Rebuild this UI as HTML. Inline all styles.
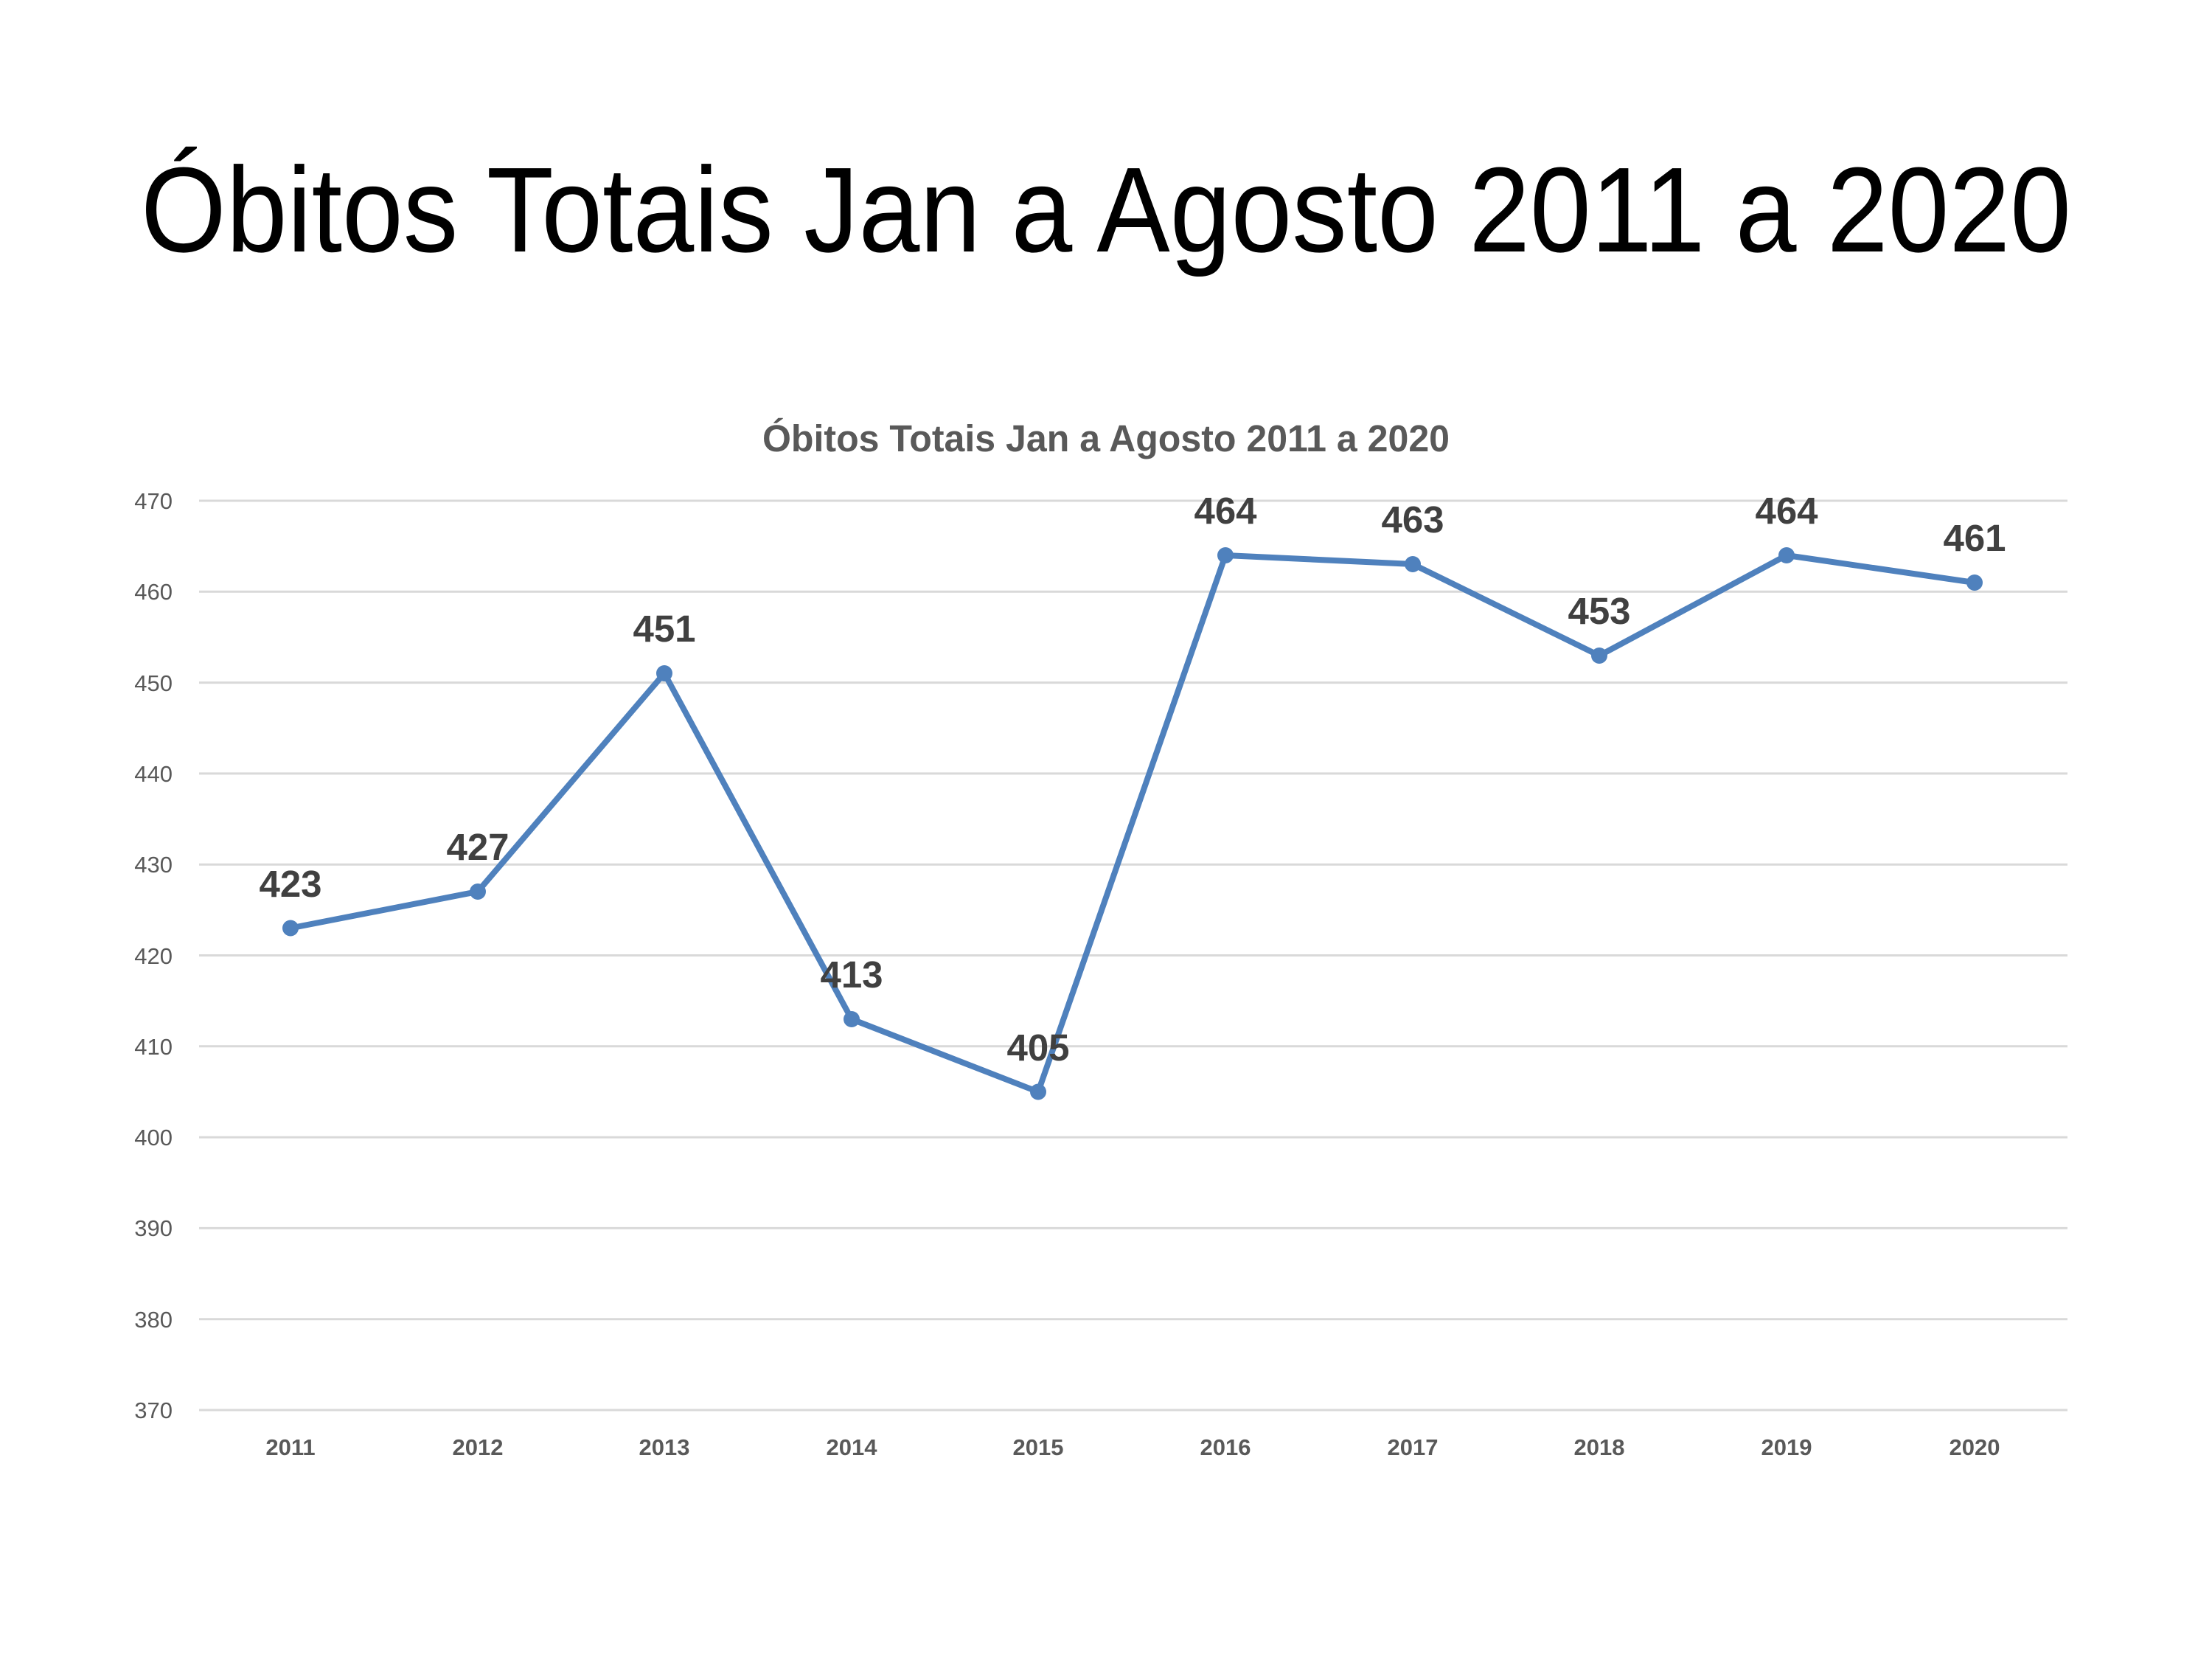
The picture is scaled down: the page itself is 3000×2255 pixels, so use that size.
<!DOCTYPE html>
<html><head><meta charset="utf-8"><style>html,body{margin:0;padding:0;background:#fff}</style></head>
<body>
<svg width="3000" height="2250" xmlns="http://www.w3.org/2000/svg" font-family="'Liberation Sans', sans-serif">
<rect width="3000" height="2250" fill="#fff"/>
<text x="1500" y="341" font-size="164" text-anchor="middle" fill="#000" textLength="2618" lengthAdjust="spacingAndGlyphs">Óbitos Totais Jan a Agosto 2011 a 2020</text>
<text x="1500" y="612" font-size="51" font-weight="bold" text-anchor="middle" fill="#595959" textLength="932" lengthAdjust="spacingAndGlyphs">Óbitos Totais Jan a Agosto 2011 a 2020</text>
<g stroke="#d9d9d9" stroke-width="3">
<line x1="270" x2="2804" y1="679" y2="679"/><line x1="270" x2="2804" y1="802.3" y2="802.3"/><line x1="270" x2="2804" y1="925.6" y2="925.6"/><line x1="270" x2="2804" y1="1048.9" y2="1048.9"/><line x1="270" x2="2804" y1="1172.2" y2="1172.2"/><line x1="270" x2="2804" y1="1295.5" y2="1295.5"/><line x1="270" x2="2804" y1="1418.8" y2="1418.8"/><line x1="270" x2="2804" y1="1542.1" y2="1542.1"/><line x1="270" x2="2804" y1="1665.4" y2="1665.4"/><line x1="270" x2="2804" y1="1788.7" y2="1788.7"/><line x1="270" x2="2804" y1="1912" y2="1912"/>
</g>
<g font-size="31" fill="#595959" text-anchor="end">
<text x="234" y="690">470</text><text x="234" y="813">460</text><text x="234" y="937">450</text><text x="234" y="1060">440</text><text x="234" y="1183">430</text><text x="234" y="1307">420</text><text x="234" y="1430">410</text><text x="234" y="1553">400</text><text x="234" y="1676">390</text><text x="234" y="1800">380</text><text x="234" y="1923">370</text>
</g>
<g font-size="31" font-weight="bold" fill="#595959" text-anchor="middle">
<text x="394" y="1973">2011</text><text x="648" y="1973">2012</text><text x="901" y="1973">2013</text><text x="1155" y="1973">2014</text><text x="1408" y="1973">2015</text><text x="1662" y="1973">2016</text><text x="1916" y="1973">2017</text><text x="2169" y="1973">2018</text><text x="2423" y="1973">2019</text><text x="2678" y="1973">2020</text>
</g>
<polyline fill="none" stroke="#4F81BD" stroke-width="8" stroke-linejoin="round" points="394,1258.5 648,1209 901,913 1155,1382 1408,1480.5 1662,753 1916,765 2169,889 2423,753 2678,790"/>
<g fill="#4F81BD">
<circle cx="394" cy="1258.5" r="11"/><circle cx="648" cy="1209" r="11"/><circle cx="901" cy="913" r="11"/><circle cx="1155" cy="1382" r="11"/><circle cx="1408" cy="1480.5" r="11"/><circle cx="1662" cy="753" r="11"/><circle cx="1916" cy="765" r="11"/><circle cx="2169" cy="889" r="11"/><circle cx="2423" cy="753" r="11"/><circle cx="2678" cy="790" r="11"/>
</g>
<g font-size="51" font-weight="bold" fill="#404040" text-anchor="middle">
<text x="394" y="1216">423</text><text x="648" y="1166">427</text><text x="901" y="870">451</text><text x="1155" y="1339">413</text><text x="1408" y="1438">405</text><text x="1662" y="710">464</text><text x="1916" y="722">463</text><text x="2169" y="846">453</text><text x="2423" y="710">464</text><text x="2678" y="747">461</text>
</g>
</svg>
</body></html>
